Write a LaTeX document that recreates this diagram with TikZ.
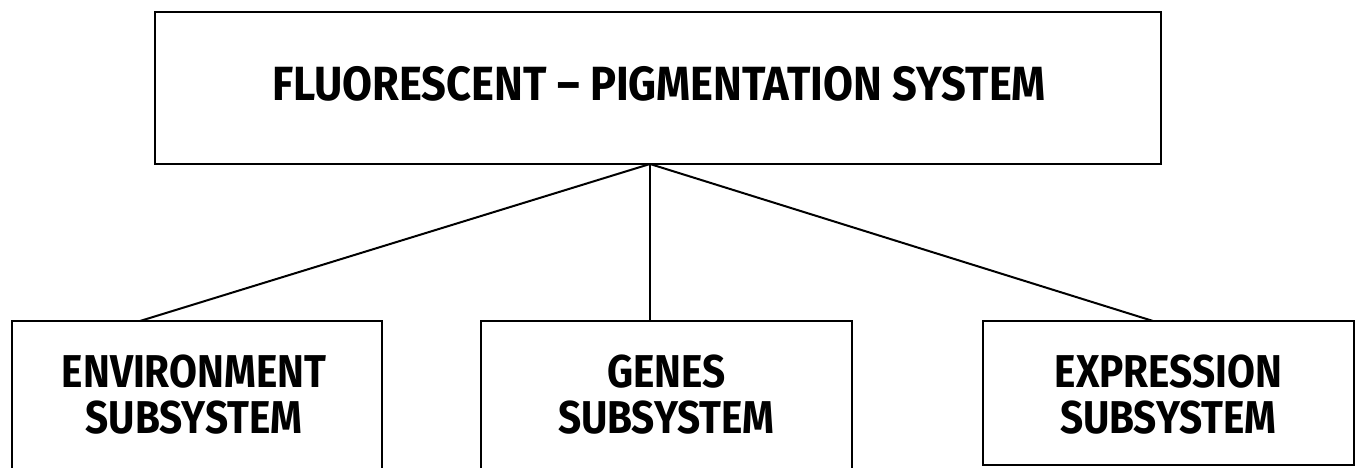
\documentclass[tikz,border=0pt]{standalone}
\usepackage{fontspec}
\usepackage{graphicx}
\setmainfont{Fira Sans}
\newcommand\squeeze[1]{\scalebox{0.88}[1]{#1}}
\newcommand\squeezeT[1]{\scalebox{0.905}[1]{#1}}
\tikzset{
  box/.style={draw=black, line width=2.6pt, fill=white, inner sep=0pt},
  lbl/.style={font=\fontsize{46}{46}\selectfont\bfseries, align=center},
  ttl/.style={font=\fontsize{48}{48}\selectfont\bfseries, align=center},
  link/.style={draw=black, line width=2pt}
}
\begin{document}
\begin{tikzpicture}[x=1pt,y=-1pt]
\useasboundingbox (0,0) rectangle (1358,468);
\node[box, minimum width=1006pt, minimum height=152pt] (sys) at (658,88) {};
\node[box, minimum width=370pt, minimum height=152pt] (env) at (197,397) {};
\node[box, minimum width=371pt, minimum height=152pt] (gen) at (666.5,397) {};
\node[box, minimum width=371pt, minimum height=144pt] (exp) at (1168.5,393) {};
\node[ttl] (sysT) at (659,84) {\squeezeT{FLUORESCENT – PIGMENTATION SYSTEM}};
\node[lbl] (envT) at (194,395) {\squeeze{ENVIRONMENT}\\\squeeze{SUBSYSTEM}};
\node[lbl] (genT) at (666.5,395) {\squeeze{GENES}\\\squeeze{SUBSYSTEM}};
\node[lbl] (expT) at (1168.5,395) {\squeeze{EXPRESSION}\\\squeeze{SUBSYSTEM}};
\coordinate (j) at (650,164);
\coordinate (envTop) at (140,321);
\coordinate (genTop) at (650,321);
\coordinate (expTop) at (1153,321);
\draw[link] (j) -- (envTop);
\draw[link] (j) -- (genTop);
\draw[link] (j) -- (expTop);
\end{tikzpicture}
\end{document}
